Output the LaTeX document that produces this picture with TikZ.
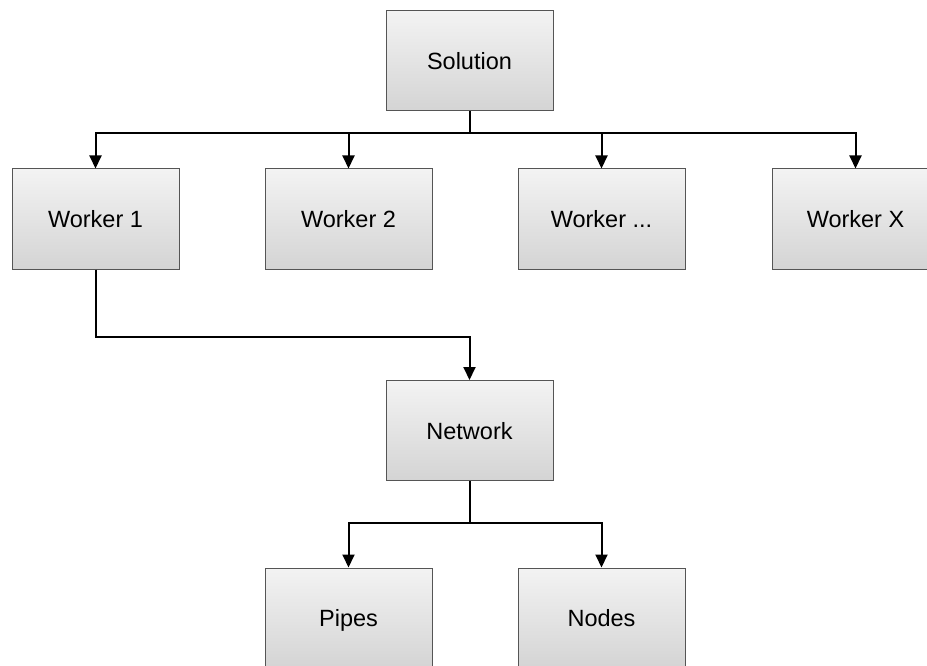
\documentclass[tikz,border=0pt]{standalone}
\usepackage{fontspec}
\setmainfont{Liberation Sans}
\usetikzlibrary{arrows.meta}
\definecolor{boxtop}{RGB}{243,243,243}
\definecolor{boxbot}{RGB}{212,212,212}
\definecolor{boxline}{RGB}{85,85,85}
\begin{document}
\begin{tikzpicture}[x=1pt,y=-1pt,
  box/.style={draw=boxline,line width=1pt,top color=boxtop,bottom color=boxbot,
    minimum width=167pt,minimum height=100pt,inner sep=0pt,
    text height=17pt,text depth=0pt,
    font=\fontsize{23.5}{28}\selectfont},
  arr/.style={line width=2pt,-{Triangle[length=13pt,width=12pt]}},
  conn/.style={line width=2pt}]
\useasboundingbox (0,0) rectangle (927,666);
\clip (0,0) rectangle (927,666);
\fill[white] (0,0) rectangle (927,666);
\node[box] (sol) at (469.5,61) {Solution};
\node[box] (w1) at (95.5,219) {Worker 1};
\node[box] (w2) at (348.5,219) {Worker 2};
\node[box] (w3) at (601.5,219) {Worker ...};
\node[box] (wx) at (855.5,219) {Worker X};
\node[box] (net) at (469.5,430.5) {Network};
\node[box] (pipes) at (348.5,618) {Pipes};
\node[box] (nodes) at (601.5,618) {Nodes};
\coordinate (bus) at (469.5,133);
\coordinate (bus2) at (469.5,523);
\draw[conn] (sol.south) -- (bus);
\draw[arr] (bus) -| (w1.north);
\draw[arr] (bus) -| (w2.north);
\draw[arr] (bus) -| (w3.north);
\draw[arr] (bus) -| (wx.north);
\draw[arr] (w1.south) |- (469.5,337) -- (net.north);
\draw[conn] (net.south) -- (bus2);
\draw[arr] (bus2) -| (pipes.north);
\draw[arr] (bus2) -| (nodes.north);
\end{tikzpicture}
\end{document}
